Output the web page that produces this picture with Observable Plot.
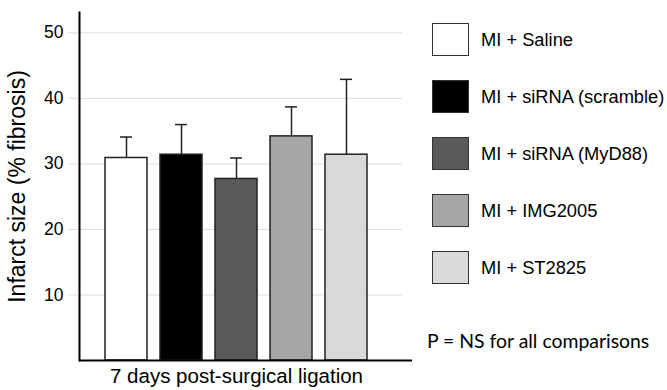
<!DOCTYPE html>
<html><head><meta charset="utf-8">
<script src="https://cdn.jsdelivr.net/npm/d3@7"></script>
<script src="https://cdn.jsdelivr.net/npm/@observablehq/plot@0.6"></script>
<style>
html,body{margin:0;padding:0;background:#fff;overflow:hidden;}
#wrap{position:relative;width:667px;height:390px;overflow:hidden;font-family:"Liberation Sans",Arial,sans-serif;}
#wrap svg{position:absolute;left:0;top:0;}
.leg{position:absolute;left:432px;display:flex;align-items:center;white-space:nowrap;}
.sw{width:37px;height:33px;box-sizing:border-box;border:1.5px solid #333;}
.lt{margin-left:12px;font-size:18.3px;color:#000;}
#note{position:absolute;left:427px;top:329px;font-family:Lato,sans-serif;font-size:19.4px;white-space:nowrap;color:#000;}
</style></head><body><div id="wrap"></div>
<script>
const groups = ["MI + Saline", "MI + siRNA (scramble)", "MI + siRNA (MyD88)", "MI + IMG2005", "MI + ST2825"];
const means = [30.9, 31.4, 27.7, 34.2, 31.4];
const uppers = [34.1, 36.0, 30.9, 38.7, 42.9];
const colors = ["#ffffff", "#000000", "#5a5a5a", "#a6a6a6", "#d9d9d9"];
const yTicks = [10, 20, 30, 40, 50];
const yTitle = "Infarct size (% fibrosis)";
const xTitle = "7 days post-surgical ligation";
const note = "P = NS for all comparisons";

const data = groups.map((g, i) => ({group: g, mean: means[i], upper: uppers[i]}));

const chart = Plot.plot({
  width: 667, height: 390,
  marginLeft: 79, marginRight: 255, marginTop: 12, marginBottom: 30,
  style: {fontFamily: "'Liberation Sans', Arial, sans-serif", background: "transparent", color: "#000"},
  x: {domain: groups, range: [79, 392], paddingInner: 0.24, paddingOuter: 0.45, axis: null},
  y: {domain: [0, 53.1]},
  color: {domain: groups, range: colors},
  marks: [
    Plot.ruleY(yTicks, {stroke: "#dcdcdc", strokeWidth: 1, insetLeft: -11, insetRight: 10}),
    Plot.axisY({ticks: yTicks, tickSize: 0, tickPadding: 16, fontSize: 17.5, label: null}),
    Plot.barY(data, {x: "group", y: "mean", fill: "group", stroke: "#222", strokeWidth: 1.5}),
    Plot.ruleX(data, {x: "group", y1: "mean", y2: "upper", stroke: "#222", strokeWidth: 1.5}),
    Plot.tickY(data, {x: "group", y: "upper", stroke: "#222", strokeWidth: 1.5, insetLeft: 15, insetRight: 15}),
    Plot.ruleY([0], {stroke: "#000", strokeWidth: 2}),
    Plot.frame({anchor: "left", stroke: "#000", strokeWidth: 2}),
    Plot.text([yTitle], {frameAnchor: "left", rotate: -90, dx: -71, lineAnchor: "top", textAnchor: "middle", fontSize: 23}),
    Plot.text([xTitle], {x: [groups[2]], y: [0], lineAnchor: "top", textAnchor: "middle", dy: 8, fontSize: 20.5})
  ]
});

const wrap = document.getElementById("wrap");
wrap.appendChild(chart);

groups.forEach((g, i) => {
  const item = document.createElement("div");
  item.className = "leg";
  item.style.top = (23 + i * 57) + "px";
  const sw = document.createElement("div");
  sw.className = "sw";
  sw.style.background = colors[i];
  const lt = document.createElement("span");
  lt.className = "lt";
  lt.textContent = g;
  item.appendChild(sw);
  item.appendChild(lt);
  wrap.appendChild(item);
});

const n = document.createElement("div");
n.id = "note";
n.textContent = note;
wrap.appendChild(n);
</script>
</body></html>
